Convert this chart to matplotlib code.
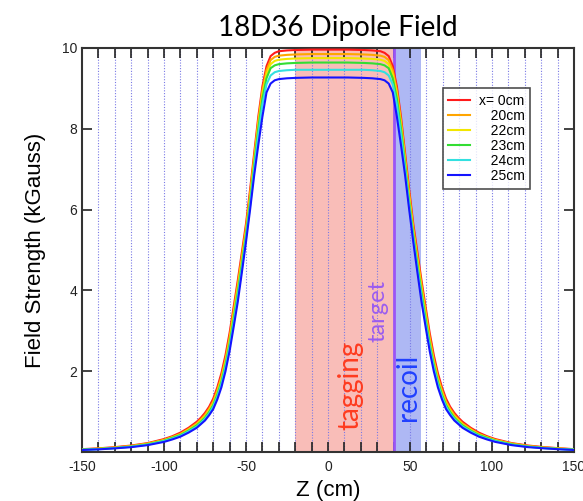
import matplotlib
matplotlib.use("Agg")
import matplotlib.pyplot as plt
from matplotlib.ticker import MultipleLocator

# ---- data ----
z_left = [-150, -140, -130, -120, -110, -100, -95, -90, -85, -80,
          -77.5, -75, -72.5, -70, -67.5, -65, -62.5, -60, -57.5, -55,
          -52.5, -50, -47.5, -45, -42.5, -40, -37.5, -35, -32.5, -30,
          -25, -20, -10, 0]
z_right = [2, 12, 22, 27, 32, 34.5, 37, 39.5, 42, 44.5,
           47, 49.5, 52, 54.5, 57, 59.5, 62, 64.5, 67, 69.5,
           72, 74.5, 77, 79.5, 82, 87, 92, 97, 102, 112,
           122, 132, 142, 150]

red_left = [.07, .09, .12, .16, .22, .32, .39, .48, .60, .75,
            .85, .97, 1.12, 1.32, 1.6, 1.95, 2.4, 2.95, 3.6, 4.25,
            4.95, 5.65, 6.5, 7.4, 8.3, 9.05, 9.55, 9.8, 9.88, 9.92,
            9.94, 9.95, 9.96, 9.96]
red_right = [9.96, 9.96, 9.95, 9.94, 9.92, 9.88, 9.8, 9.55, 9.05, 8.3,
             7.4, 6.5, 5.65, 4.95, 4.25, 3.6, 2.95, 2.4, 1.95, 1.6,
             1.32, 1.12, .97, .85, .75, .60, .48, .39, .32, .22,
             .16, .12, .09, .07]

orange_left = [.065, .085, .11, .15, .21, .30, .37, .45, .57, .71,
               .81, .92, 1.07, 1.25, 1.53, 1.86, 2.3, 2.85, 3.5, 4.15,
               4.85, 5.55, 6.4, 7.3, 8.2, 8.95, 9.45, 9.7, 9.78, 9.81,
               9.83, 9.84, 9.85, 9.85]
orange_right = [9.85, 9.85, 9.84, 9.83, 9.81, 9.78, 9.7, 9.45, 8.95, 8.2,
                7.3, 6.4, 5.55, 4.85, 4.15, 3.5, 2.85, 2.3, 1.86, 1.53,
                1.25, 1.07, .92, .81, .71, .57, .45, .37, .30, .21,
                .15, .11, .085, .065]

yellow_left = [.06, .08, .105, .14, .20, .29, .36, .43, .55, .68,
               .78, .88, 1.03, 1.20, 1.47, 1.80, 2.23, 2.75, 3.4, 4.05,
               4.75, 5.45, 6.3, 7.2, 8.1, 8.85, 9.35, 9.6, 9.68, 9.71,
               9.73, 9.74, 9.75, 9.75]
yellow_right = [9.75, 9.75, 9.74, 9.73, 9.71, 9.68, 9.6, 9.35, 8.85, 8.1,
                7.2, 6.3, 5.45, 4.75, 4.05, 3.4, 2.75, 2.23, 1.80, 1.47,
                1.20, 1.03, .88, .78, .68, .55, .43, .36, .29, .20,
                .14, .105, .08, .06]

green_left = [.06, .075, .10, .135, .19, .28, .35, .42, .53, .66,
              .75, .85, .99, 1.16, 1.42, 1.74, 2.16, 2.68, 3.3, 3.95,
              4.65, 5.38, 6.2, 7.1, 8.0, 8.75, 9.25, 9.5, 9.57, 9.6,
              9.62, 9.63, 9.64, 9.64]
green_right = [9.64, 9.64, 9.63, 9.62, 9.6, 9.57, 9.5, 9.25, 8.75, 8.0,
               7.1, 6.2, 5.38, 4.65, 3.95, 3.3, 2.68, 2.16, 1.74, 1.42,
               1.16, .99, .85, .75, .66, .53, .42, .35, .28, .19,
               .135, .10, .075, .06]

cyan_left = [.055, .07, .095, .13, .18, .27, .33, .40, .51, .63,
             .72, .82, .95, 1.12, 1.37, 1.68, 2.1, 2.6, 3.2, 3.85,
             4.55, 5.3, 6.1, 7.0, 7.85, 8.6, 9.1, 9.32, 9.4, 9.43,
             9.45, 9.46, 9.46, 9.46]
cyan_right = [9.46, 9.46, 9.46, 9.45, 9.43, 9.4, 9.32, 9.1, 8.6, 7.85,
              7.0, 6.1, 5.3, 4.55, 3.85, 3.2, 2.6, 2.1, 1.68, 1.37,
              1.12, .95, .82, .72, .63, .51, .40, .33, .27, .18,
              .13, .095, .07, .055]

blue_left = [.05, .065, .09, .12, .17, .25, .31, .38, .48, .60,
             .69, .78, .91, 1.06, 1.30, 1.60, 2.0, 2.5, 3.1, 3.72,
             4.45, 5.2, 6.0, 6.85, 7.6, 8.3, 8.9, 9.12, 9.2, 9.23,
             9.25, 9.26, 9.27, 9.27]
blue_right = [9.27, 9.27, 9.26, 9.25, 9.23, 9.2, 9.12, 8.9, 8.3, 7.6,
              6.85, 6.0, 5.2, 4.45, 3.72, 3.1, 2.5, 2.0, 1.60, 1.30,
              1.06, .91, .78, .69, .60, .48, .38, .31, .25, .17,
              .12, .09, .065, .05]

z = z_left + z_right
series = [red_left + red_right, orange_left + orange_right,
          yellow_left + yellow_right, green_left + green_right,
          cyan_left + cyan_right, blue_left + blue_right]
labels = ["x= 0cm", "   20cm", "   22cm", "   23cm", "   24cm", "   25cm"]
colors = ["#ff1a1a", "#ffa500", "#f2e600", "#33dd33", "#33e0e0", "#1414ff"]

tagging_range = (-20, 40)
recoil_range = (40, 57)
target_z = 40

# ---- figure ----
plt.rcParams['font.family'] = ['Liberation Sans', 'DejaVu Sans']
plt.rcParams['axes.unicode_minus'] = False
fig = plt.figure(figsize=(5.83, 5.01), dpi=100)
ax = fig.add_axes([82/583, 49/501, 492/583, 404/501])

ax.axvspan(*tagging_range, color="#f9bdb8", lw=0, zorder=0)
ax.axvspan(*recoil_range, color="#aeb8f4", lw=0, zorder=0)

for g in range(-140, 150, 10):
    ax.axvline(g, color="#7a7ae6", lw=0.8, ls=(0, (1, 1.5)), zorder=1)

ax.axvline(target_z, color="#9b55f5", lw=2, zorder=2)

for vals, lab, c in zip(series, labels, colors):
    ax.plot(z, vals, color=c, lw=1.5, label=lab, zorder=3)

ax.set_xlim(-150, 150)
ax.set_ylim(0, 10)
ax.xaxis.set_major_locator(MultipleLocator(50))
ax.xaxis.set_minor_locator(MultipleLocator(10))
ax.set_yticks([2, 4, 6, 8, 10])
ax.tick_params(axis='both', which='both', direction='in', top=True, right=True,
               labelsize=10, colors='#222222')
ax.tick_params(axis='x', which='both', length=7, width=1.2, pad=6)
ax.tick_params(axis='y', which='major', length=7, width=1.2)
for s in ax.spines.values():
    s.set_linewidth(1.5)
    s.set_color('#333333')

ax.set_xlabel("Z (cm)", fontsize=16, labelpad=4)
ax.set_ylabel("Field Strength (kGauss)", fontsize=16, labelpad=11)

fig.text(0.58, 0.945, "18D36 Dipole Field", fontsize=20, ha='center', va='center',
         family=['Lato', 'DejaVu Sans'])

ax.text(13.4, 1.65, "tagging", color="#ff3b1f", rotation=90, fontsize=20,
        ha='center', va='center', family=['Lato', 'DejaVu Sans'])
ax.text(30.5, 3.5, "target", color="#9a5cf0", rotation=90, fontsize=17,
        ha='center', va='center', family=['Lato', 'DejaVu Sans'])
ax.text(48.8, 1.6, "recoil", color="#2040ff", rotation=90, fontsize=20,
        ha='center', va='center', family=['Lato', 'DejaVu Sans'])

leg = ax.legend(loc='upper right', bbox_to_anchor=(0.911, 0.901), borderaxespad=0,
                fontsize=10, frameon=True, fancybox=False, edgecolor='#222222',
                handlelength=1.6, handletextpad=0.6, labelspacing=0.08,
                borderpad=0.4)
leg.get_frame().set_linewidth(1.2)
leg.set_zorder(5)

fig.savefig("out.png", dpi=100)
